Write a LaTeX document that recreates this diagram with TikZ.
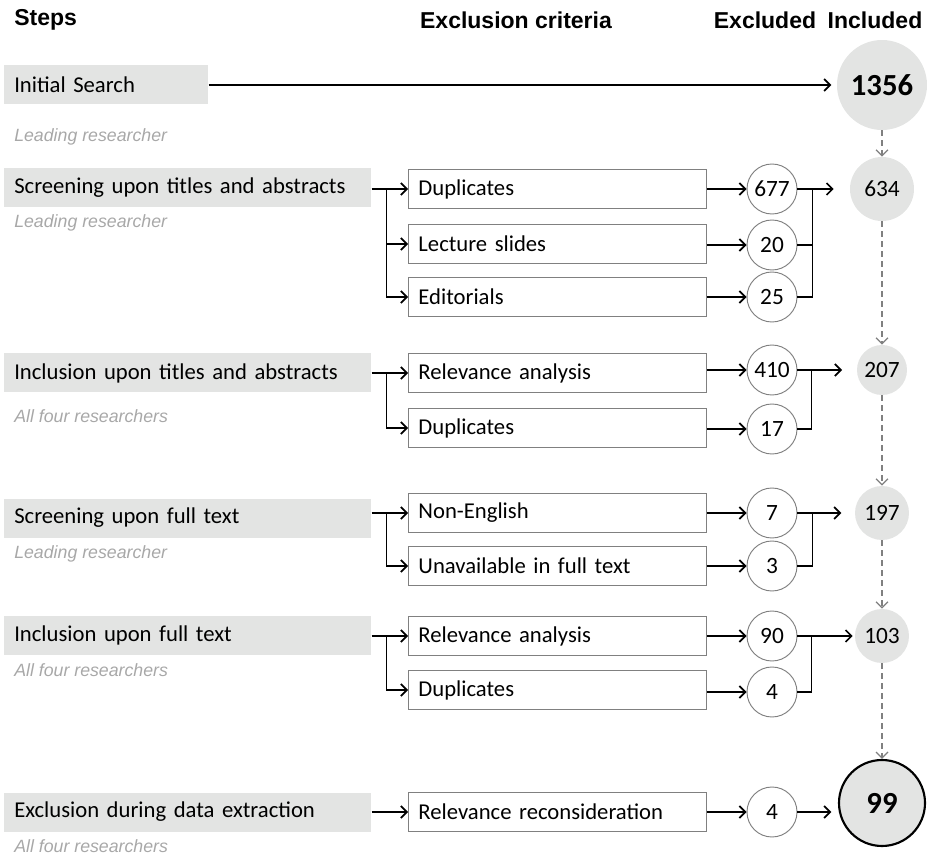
\documentclass[tikz,border=0pt]{standalone}
\usepackage{fontspec}
\setmainfont{Carlito}
\newfontfamily\arialfont{Liberation Sans}
\usetikzlibrary{arrows.meta}
\definecolor{boxgrey}{HTML}{E3E4E3}
\definecolor{notegrey}{HTML}{A8A8A8}
\definecolor{edgegrey}{HTML}{808080}
\tikzset{
  stepbox/.style={fill=boxgrey, anchor=west, minimum height=29.25pt, inner xsep=7.5pt,
    text width=260.25pt, align=left, font=\fontsize{17}{20}\selectfont},
  notetext/.style={anchor=west, inner sep=0pt, text=notegrey,
    font=\arialfont\itshape\fontsize{13.3}{16}\selectfont},
  critbox/.style={draw=edgegrey, line width=0.7pt, anchor=west, minimum height=29.25pt,
    inner xsep=7.5pt, text width=208.5pt, align=left, font=\fontsize{17}{20}\selectfont},
  outnum/.style={circle, draw=edgegrey, line width=0.7pt, fill=white, minimum size=37.5pt,
    inner sep=0pt, font=\fontsize{17.5}{20}\selectfont},
  innum/.style={circle, fill=boxgrey, inner sep=0pt, font=\fontsize{17.5}{20}\selectfont},
  bignum/.style={font=\bfseries\fontsize{23}{26}\selectfont},
  colhead/.style={inner sep=0pt, font=\arialfont\bfseries\fontsize{17.25}{20}\selectfont},
  flow/.style={->, line width=1.3pt},
  bus/.style={line width=1.3pt},
  keep/.style={->, dash pattern=on 4.5pt off 3pt, draw=edgegrey, line width=1pt},
}
\begin{document}
\begin{tikzpicture}[x=0.75pt, y=-0.75pt, >={Straight Barb[length=4.5pt,width=9pt]}]
\useasboundingbox (0,0) rectangle (932,855);
% column heads
\node[colhead, anchor=west] (hsteps) at (14,20) {Steps};
\node[colhead] (hcrit) at (516,20) {Exclusion criteria};
\node[colhead] (hout) at (765,20) {Excluded};
\node[colhead] (hin) at (875,20) {Included};

% steps
\node[stepbox, text width=138pt] (s1) at (4,85) {Initial Search};
\node[stepbox] (s2) at (4,188) {Screening upon titles and abstracts};
\node[stepbox] (s3) at (4,373) {Inclusion upon titles and abstracts};
\node[stepbox] (s4) at (4,518) {Screening upon full text};
\node[stepbox] (s5) at (4,635) {Inclusion upon full text};
\node[stepbox] (s6) at (4,812) {Exclusion during data extraction};
\node[notetext] (n1) at (14,137) {Leading researcher};
\node[notetext] (n2) at (14,223) {Leading researcher};
\node[notetext] (n3) at (14,416) {All four researchers};
\node[notetext] (n4) at (14,554) {Leading researcher};
\node[notetext] (n5) at (14,670) {All four researchers};
\node[notetext] (n6) at (14,846) {All four researchers};

% exclusion criteria
\node[critbox] (c2a) at (408,189) {Duplicates};
\node[critbox] (c2b) at (408,244) {Lecture slides};
\node[critbox] (c2c) at (408,297) {Editorials};
\node[critbox] (c3a) at (408,373) {Relevance analysis};
\node[critbox] (c3b) at (408,428) {Duplicates};
\node[critbox] (c4a) at (408,513) {Non-English};
\node[critbox] (c4b) at (408,566) {Unavailable in full text};
\node[critbox] (c5a) at (408,636) {Relevance analysis};
\node[critbox] (c5b) at (408,690) {Duplicates};
\node[critbox] (c6) at (408,812) {Relevance reconsideration};

% excluded
\node[outnum] (e2a) at (772,189) {677};
\node[outnum] (e2b) at (772,245) {20};
\node[outnum] (e2c) at (772,297) {25};
\node[outnum] (e3a) at (772,370) {410};
\node[outnum] (e3b) at (772,429) {17};
\node[outnum] (e4a) at (772,513) {7};
\node[outnum] (e4b) at (772,566) {3};
\node[outnum] (e5a) at (772,636) {90};
\node[outnum] (e5b) at (772,692) {4};
\node[outnum] (e6) at (772,812) {4};

% included
\node[innum, bignum, minimum size=67.5pt] (i1) at (882,85) {1356};
\node[innum, minimum size=48pt] (i2) at (882,189) {634};
\node[innum, minimum size=37.5pt] (i3) at (882,370) {207};
\node[innum, minimum size=40.5pt] (i4) at (882,513) {197};
\node[innum, minimum size=40.5pt] (i5) at (882,636) {103};
\node[innum, bignum, minimum size=64.5pt, draw=black, line width=1.6pt] (i6) at (882,803) {99};

% steps -> criteria
\draw[flow, shorten >=4pt] (s1.east) -- (i1.west);
\path (s2.east |- c2a) ++(15,0) coordinate (j2);
\draw[flow] (s2.east |- c2a) -- (c2a.west);
\draw[flow] (j2) |- (c2b.west);
\draw[flow] (j2) |- (c2c.west);
\path (s3.east |- c3a) ++(15,0) coordinate (j3);
\draw[flow] (s3.east |- c3a) -- (c3a.west);
\draw[flow] (j3) |- (c3b.west);
\path (s4.east |- c4a) ++(15,0) coordinate (j4);
\draw[flow] (s4.east |- c4a) -- (c4a.west);
\draw[flow] (j4) |- (c4b.west);
\path (s5.east |- c5a) ++(15,0) coordinate (j5);
\draw[flow] (s5.east |- c5a) -- (c5a.west);
\draw[flow] (j5) |- (c5b.west);
\draw[flow] (s6.east) -- (c6.west);

% criteria -> excluded
\foreach \c/\e in {c2a/e2a,c2b/e2b,c2c/e2c,c3a/e3a,c3b/e3b,c4a/e4a,c4b/e4b,c5a/e5a,c5b/e5b,c6/e6}
  \draw[flow] (\c.east |- \e) -- (\e.west);

% excluded -> included
\path (e2a.east) ++(15,0) coordinate (k2);
\draw[bus] (e2b.east) -- (e2b.east -| k2);
\draw[bus] (e2c.east) -| (k2);
\draw[flow, shorten >=12pt] (e2a.east) -- (e2a.east -| i2.west);
\path (e3a.east) ++(14,0) coordinate (k3);
\draw[bus] (e3b.east) -| (k3);
\draw[flow, shorten >=11pt] (e3a.east) -- (e3a.east -| i3.west);
\path (e4a.east) ++(15,0) coordinate (k4);
\draw[bus] (e4b.east) -| (k4);
\draw[flow, shorten >=10pt] (e4a.east) -- (e4a.east -| i4.west);
\path (e5a.east) ++(14,0) coordinate (k5);
\draw[bus] (e5b.east) -| (k5);
\draw[flow, shorten >=1.5pt] (e5a.east) -- (e5a.east -| i5.west);
\draw[flow, shorten >=5pt] (e6.east) -- (e6.east -| i6.west);

% included -> included
\draw[keep] (i1) -- (i2);
\draw[keep] (i2) -- (i3);
\draw[keep] (i3) -- (i4);
\draw[keep] (i4) -- (i5);
\draw[keep] (i5) -- (i6);
\end{tikzpicture}
\end{document}
